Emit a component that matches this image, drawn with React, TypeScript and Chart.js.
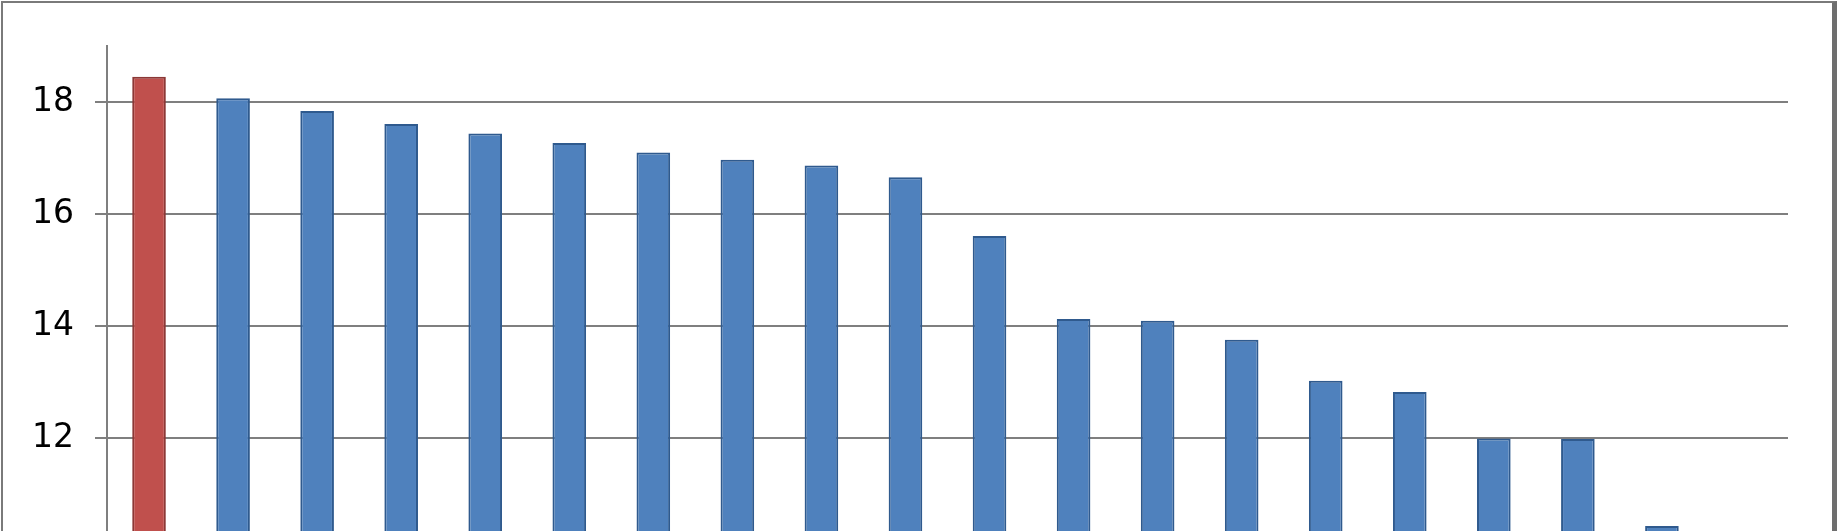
import { useEffect, useRef } from "react";
import { Chart, registerables, type ChartConfiguration } from "chart.js";

Chart.register(...registerables);

// categories are cut off in the source image, so they are just numbered
const categories = [
  "1", "2", "3", "4", "5", "6", "7", "8", "9", "10",
  "11", "12", "13", "14", "15", "16", "17", "18", "19", "20",
];
const values = [
  18.45, 18.07, 17.84, 17.61, 17.44, 17.27, 17.1, 16.97, 16.87, 16.66,
  15.61, 14.13, 14.1, 13.76, 13.03, 12.83, 12.0, 11.99, 10.44, 10.2,
];
const highlightIndex = 0;
const yTicks = [12, 14, 16, 18];
const yMin = 10.35;
const yMax = 19;

const RED = "#C0504D";
const RED_EDGE = "#8C3836";
const BLUE = "#4F81BD";
const BLUE_EDGE = "#2F5A8E";
const GRID = "#7f7f7f";

export default function App() {
  const canvasRef = useRef<HTMLCanvasElement>(null);
  const chartRef = useRef<Chart | null>(null);

  useEffect(() => {
    if (!canvasRef.current) return;
    chartRef.current?.destroy();

    const cfg: ChartConfiguration = {
      type: "bar",
      data: {
        labels: categories,
        datasets: [
          {
            data: values,
            backgroundColor: values.map((_, i) => (i === highlightIndex ? RED : BLUE)),
            borderColor: values.map((_, i) => (i === highlightIndex ? RED_EDGE : BLUE_EDGE)),
            borderWidth: 2,
            barPercentage: 0.4,
            categoryPercentage: 1,
          },
        ],
      },
      options: {
        animation: false,
        responsive: true,
        maintainAspectRatio: false,
        layout: { padding: { top: 46, right: 50, bottom: 0, left: 0 } },
        plugins: { legend: { display: false }, tooltip: { enabled: false } },
        scales: {
          x: { display: false },
          y: {
            min: yMin,
            max: yMax,
            afterBuildTicks: (scale) => {
              scale.ticks = yTicks.map((v) => ({ value: v }));
            },
            afterFit: (scale) => {
              scale.width = 107;
              scale.paddingTop = 0;
              scale.paddingBottom = 0;
            },
            grid: { color: GRID, lineWidth: 2, tickLength: 12, tickColor: GRID },
            border: { display: true, color: GRID, width: 2 },
            ticks: {
              color: "#000",
              padding: 21,
              font: { family: "DejaVu Sans", size: 33 },
            },
          },
        },
      },
    };

    chartRef.current = new Chart(canvasRef.current, cfg);
    return () => {
      chartRef.current?.destroy();
      chartRef.current = null;
    };
  }, []);

  return (
    <div style={{ position: "fixed", left: 0, top: 0, width: 1838, height: 531, background: "#fff", overflow: "hidden" }}>
      <canvas ref={canvasRef} />
      <div
        style={{
          position: "absolute",
          left: 1,
          top: 1,
          width: 1836,
          height: 560,
          boxSizing: "border-box",
          borderLeft: "2px solid #7a7a7a",
          borderTop: "2px solid #7a7a7a",
          borderRight: "5px solid #6e6e6e",
          pointerEvents: "none",
        }}
      />
    </div>
  );
}
